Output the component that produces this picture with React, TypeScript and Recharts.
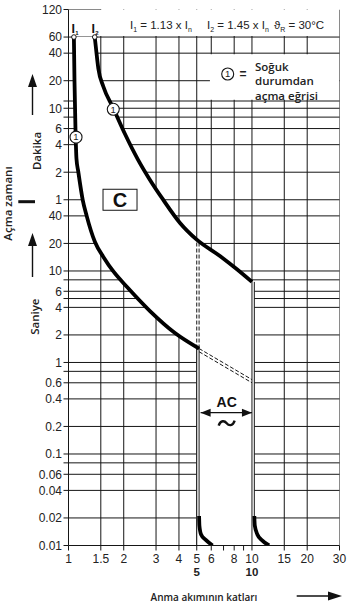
import React from "react";
import { ComposedChart, XAxis, YAxis, CartesianGrid, Line, Area, Scatter } from "recharts";

// x = multiple of rated current, t = trip time in seconds
const xTicks = [1, 1.5, 2, 3, 4, 5, 6, 7, 8, 9, 10, 15, 20, 30];
const xTickLabels: Record<number, string> = {
  1: "1", 1.5: "1.5", 2: "2", 3: "3", 4: "4", 5: "5", 6: "6", 8: "8", 10: "10", 15: "15", 20: "20", 30: "30",
};
const xGridLines = [1.5, 2, 3, 4, 5, 6, 8, 10, 15, 20];

const yTicks = [
  7200, 3600, 2400, 1200, 720, 600, 480, 360, 240, 120, 60, 40, 20, 10, 8, 6, 5, 4, 2, 1, 0.8, 0.6, 0.4, 0.2,
  0.1, 0.08, 0.06, 0.04, 0.02, 0.01,
];
// minutes above 1 min, seconds below
const yTickLabels: Record<number, string> = {
  7200: "120", 3600: "60", 2400: "40", 1200: "20", 600: "10", 360: "6", 240: "4", 120: "2", 60: "1",
  40: "40", 20: "20", 10: "10", 6: "6", 4: "4", 2: "2", 1: "1", 0.6: "0.6", 0.4: "0.4", 0.2: "0.2",
  0.1: "0.1", 0.06: "0.06", 0.04: "0.04", 0.02: "0.02", 0.01: "0.01",
};
const yGridLines = yTicks.filter((v) => v !== 7200 && v !== 0.01);

// lower limit curve (I1)
const lowerCurve = [
  { x: 1.07, t: 3600 }, { x: 1.078, t: 1200 }, { x: 1.091, t: 369 }, { x: 1.105, t: 169 },
  { x: 1.131, t: 121 }, { x: 1.195, t: 60 }, { x: 1.256, t: 40 }, { x: 1.394, t: 20.7 },
  { x: 1.562, t: 13.9 }, { x: 1.748, t: 10 }, { x: 2.11, t: 6.52 }, { x: 2.781, t: 3.65 },
  { x: 3.805, t: 2.1 }, { x: 5.15, t: 1.42 },
];
// upper limit curve (I2)
const upperCurve = [
  { x: 1.39, t: 3600 }, { x: 1.412, t: 2706 }, { x: 1.454, t: 1633 }, { x: 1.548, t: 1037 },
  { x: 1.748, t: 611 }, { x: 2.032, t: 314 }, { x: 2.391, t: 165 }, { x: 2.781, t: 98.9 },
  { x: 3.273, t: 60.5 }, { x: 4.053, t: 33.5 }, { x: 5, t: 22 }, { x: 6.69, t: 14.6 },
  { x: 8.25, t: 10.5 }, { x: 10, t: 7.6 },
];
// instantaneous trip, short times
const instantLow = [
  { x: 5.15, t: 0.021 }, { x: 5.17, t: 0.0165 }, { x: 5.28, t: 0.0132 }, { x: 5.6, t: 0.0115 }, { x: 6.1, t: 0.01 },
];
const instantHigh = [
  { x: 10.3, t: 0.021 }, { x: 10.36, t: 0.0165 }, { x: 10.7, t: 0.0132 }, { x: 11.4, t: 0.0113 }, { x: 12.4, t: 0.01 },
];
// band between the curves (low, high)
const bandEdges = [
  { x: 1.07, r: [3600, 3600] }, { x: 1.078, r: [1200, 3600] }, { x: 1.091, r: [369, 3600] },
  { x: 1.105, r: [169, 3600] }, { x: 1.131, r: [121, 3600] }, { x: 1.195, r: [60, 3600] },
  { x: 1.256, r: [40, 3600] }, { x: 1.39, r: [21, 3600] }, { x: 1.412, r: [19.5, 2706] },
  { x: 1.454, r: [17.5, 1633] }, { x: 1.548, r: [14.2, 1037] }, { x: 1.562, r: [13.9, 1000] },
  { x: 1.748, r: [10, 611] }, { x: 2.032, r: [7.1, 314] }, { x: 2.11, r: [6.52, 280] },
  { x: 2.391, r: [5.1, 165] }, { x: 2.781, r: [3.65, 98.9] }, { x: 3.273, r: [2.85, 60.5] },
  { x: 3.805, r: [2.1, 37] }, { x: 4.053, r: [1.95, 33.5] }, { x: 5, r: [1.47, 22] },
  { x: 5, r: [0.01, 22] }, { x: 6.69, r: [0.01, 14.6] }, { x: 8.25, r: [0.01, 10.5] },
  { x: 10, r: [0.01, 7.6] }, { x: 10.3, r: [0.01, 7.6] },
];
const coldMarks = [{ x: 1.099, t: 290 }, { x: 1.754, t: 585 }];
const curveStarts = [{ x: 1.07, t: 3600 }, { x: 1.39, t: 3600 }];
const charLabel = [{ x: 1.909, t: 60 }];
const acLabel = [{ x: 7.28, t: 0.283 }];
const acArrow = [{ x: 5.25, t: 0.283 }, { x: 10, t: 0.283 }];

// blank areas (header row, legend box)
const headerBlank = [{ x: 1, r: [3690, 7200] }, { x: 30, r: [3690, 7200] }];
const legendBlank = [{ x: 5.9, r: [745, 2330] }, { x: 30, r: [745, 2330] }];

const INK = "#161616";
const SANS = "'Liberation Sans', Arial, sans-serif";
const TITLE = "'Open Sans', sans-serif";

const seg = (a: [number, number], b: [number, number]) => [{ x: a[0], t: a[1] }, { x: b[0], t: b[1] }];

const thinLines = [
  seg([1, 7200], [1.5, 7200]),
  seg([30, 0.01], [30, 7200]),
  seg([5, 0.01], [5, 1.42]),
  seg([5.15, 0.021], [5.15, 1.42]),
  seg([10, 0.01], [10, 7.6]),
  seg([10.3, 0.021], [10.3, 7.6]),
];
const dashedLines = [
  seg([5, 1.42], [5, 22]),
  seg([5.15, 1.42], [5.15, 21.5]),
  seg([5.15, 1.42], [10, 0.65]),
  seg([5.15, 1.31], [10, 0.6]),
];

const YTick = (p: any) => {
  const label = yTickLabels[p.payload.value];
  if (!label) return <g />;
  return (
    <text x={p.x} y={p.y} dy={4.3} textAnchor="end" fontFamily={SANS} fontSize={12} fill="#222">
      {label}
    </text>
  );
};

const XTick = (p: any) => {
  const v = p.payload.value;
  const label = xTickLabels[v];
  return (
    <g>
      {label && (
        <text x={p.x} y={p.y} dy={10} textAnchor="middle" fontFamily={SANS} fontSize={12} fill="#222">
          {label}
        </text>
      )}
      {(v === 5 || v === 10) && (
        <text x={p.x} y={p.y} dy={23.5} textAnchor="middle" fontFamily={SANS} fontSize={11.5} fontWeight={700} fill="#222">
          {v}
        </text>
      )}
    </g>
  );
};

const CircledOne = (p: any) => (
  <g>
    <circle cx={p.cx} cy={p.cy} r={6} fill="#fff" stroke={INK} strokeWidth={1.1} />
    <text x={p.cx} y={p.cy + 3.3} textAnchor="middle" fontFamily={SANS} fontSize={9.5} fill="#222">1</text>
  </g>
);

const OpenDot = (p: any) => <circle cx={p.cx} cy={p.cy} r={2.3} fill="#fff" stroke={INK} strokeWidth={1} />;

const CharBox = (p: any) => (
  <g>
    <rect x={p.cx - 17} y={p.cy - 10.5} width={34} height={21} fill="#fff" stroke={INK} strokeWidth={1} />
    <text x={p.cx} y={p.cy + 7} textAnchor="middle" fontFamily={SANS} fontSize={20} fontWeight={700} fill="#111">C</text>
  </g>
);

const AcMark = (p: any) => (
  <g>
    <text x={p.cx} y={p.cy - 6} textAnchor="middle" fontFamily={SANS} fontSize={14} fontWeight={700} fill="#111">AC</text>
    <path
      d={`M${p.cx - 8},${p.cy + 13} C${p.cx - 6},${p.cy + 7} ${p.cx - 2},${p.cy + 8} ${p.cx},${p.cy + 10.5} S${p.cx + 6},${p.cy + 14} ${p.cx + 8},${p.cy + 8}`}
      fill="none"
      stroke="#111"
      strokeWidth={2.4}
    />
  </g>
);

const ArrowHead = (p: any) => {
  const d = p.index === 0 ? 1 : -1;
  return (
    <path
      key={`ah${p.index}`}
      d={`M${p.cx},${p.cy} L${p.cx + d * 10},${p.cy - 4} L${p.cx + d * 10},${p.cy + 4} Z`}
      fill="#111"
    />
  );
};

export default function App() {
  return (
    <div style={{ position: "absolute", left: 0, top: 0, width: 355, height: 604, background: "#fff" }}>
      <ComposedChart width={355} height={604} margin={{ top: 9.5, right: 15.5, bottom: 28.5, left: 0.5 }}>
        <CartesianGrid
          stroke={INK}
          strokeWidth={1}
          horizontalValues={yGridLines}
          verticalValues={xGridLines}
        />
        <XAxis
          dataKey="x"
          type="number"
          scale="log"
          domain={[1, 30]}
          allowDataOverflow
          ticks={xTicks}
          interval={0}
          tickSize={5}
          tickMargin={2}
          height={30}
          stroke={INK}
          tick={(p: any) => <XTick {...p} />}
        />
        <YAxis
          dataKey="t"
          type="number"
          scale="log"
          domain={[0.01, 7200]}
          allowDataOverflow
          ticks={yTicks}
          interval={0}
          tickSize={5}
          tickMargin={1.5}
          width={68}
          stroke={INK}
          tick={(p: any) => <YTick {...p} />}
        />
        <Area data={headerBlank} dataKey="r" type="linear" stroke="none" fill="#fff" fillOpacity={1} isAnimationActive={false} activeDot={false} />
        <Area data={legendBlank} dataKey="r" type="linear" stroke="none" fill="#fff" fillOpacity={1} isAnimationActive={false} activeDot={false} />
        <Area data={bandEdges} dataKey="r" type="linear" stroke="none" fill="#fff" fillOpacity={1} isAnimationActive={false} activeDot={false} />

        {thinLines.map((d, i) => (
          <Line key={`thin${i}`} data={d} dataKey="t" type="linear" stroke={INK} strokeWidth={1} dot={false} activeDot={false} isAnimationActive={false} />
        ))}
        {dashedLines.map((d, i) => (
          <Line key={`dash${i}`} data={d} dataKey="t" type="linear" stroke={INK} strokeWidth={1} strokeDasharray="4 2" dot={false} activeDot={false} isAnimationActive={false} />
        ))}

        <Line data={lowerCurve} dataKey="t" type="monotone" stroke="#000" strokeWidth={3.8} dot={false} activeDot={false} isAnimationActive={false} />
        <Line data={upperCurve} dataKey="t" type="monotone" stroke="#000" strokeWidth={3.8} dot={false} activeDot={false} isAnimationActive={false} />
        <Line data={instantLow} dataKey="t" type="monotone" stroke="#000" strokeWidth={3.8} dot={false} activeDot={false} isAnimationActive={false} />
        <Line data={instantHigh} dataKey="t" type="monotone" stroke="#000" strokeWidth={3.8} dot={false} activeDot={false} isAnimationActive={false} />
        <Line data={acArrow} dataKey="t" type="linear" stroke="#111" strokeWidth={1.4} dot={(p: any) => <ArrowHead {...p} />} activeDot={false} isAnimationActive={false} />

        <Scatter data={curveStarts} shape={(p: any) => <OpenDot {...p} />} isAnimationActive={false} />
        <Scatter data={coldMarks} shape={(p: any) => <CircledOne {...p} />} isAnimationActive={false} />
        <Scatter data={charLabel} shape={(p: any) => <CharBox {...p} />} isAnimationActive={false} />
        <Scatter data={acLabel} shape={(p: any) => <AcMark {...p} />} isAnimationActive={false} />
      </ComposedChart>

      <svg width={355} height={604} style={{ position: "absolute", left: 0, top: 0, pointerEvents: "none" }}>
        {/* header row */}
        <g fontFamily={SANS} fontSize={11.5} fill="#222">
          <text x={130} y={29}>
            I<tspan fontSize={7} dy={2.5}>1</tspan>
            <tspan dy={-2.5}> = 1.13 x I</tspan>
            <tspan fontSize={7} dy={2.5}>n</tspan>
          </text>
          <text x={207} y={29}>
            I<tspan fontSize={7} dy={2.5}>2</tspan>
            <tspan dy={-2.5}> = 1.45 x I</tspan>
            <tspan fontSize={7} dy={2.5}>n</tspan>
          </text>
          <text x={274} y={29}>
            ϑ<tspan fontSize={7} dy={2.5}>R</tspan>
            <tspan dy={-2.5}> = 30°C</tspan>
          </text>
        </g>
        {/* I1 / I2 marks */}
        <g fontFamily={SANS} fill="#111" fontWeight={700}>
          <text x={71.5} y={33} fontSize={12.5}>I</text>
          <text x={75.3} y={34.5} fontSize={6}>1</text>
          <text x={91.5} y={33} fontSize={12.5}>I</text>
          <text x={95.3} y={34.5} fontSize={6}>2</text>
        </g>
        {/* legend */}
        <circle cx={227.7} cy={74} r={6} fill="#fff" stroke={INK} strokeWidth={1.1} />
        <text x={227.7} y={77.3} textAnchor="middle" fontFamily={SANS} fontSize={9.5} fill="#222">1</text>
        <text x={243} y={78} textAnchor="middle" fontFamily={SANS} fontSize={12} fontWeight={700} fill="#222">=</text>
        <g fontFamily={TITLE} fontSize={11.5} fontWeight={600} fill="#222">
          <text x={255} y={70.5}>Soğuk</text>
          <text x={255} y={85}>durumdan</text>
          <text x={255} y={100}>açma eğrisi</text>
        </g>
        {/* y-axis titles */}
        <g fontFamily={TITLE} fontSize={11.5} fontWeight={600} fill="#222">
          <text transform="translate(12,203.5) rotate(-90)" textAnchor="middle">Açma zamanı</text>
          <text transform="translate(41,151) rotate(-90)" textAnchor="middle">Dakika</text>
          <text transform="translate(39,316.7) rotate(-90)" textAnchor="middle">Saniye</text>
        </g>
        <rect x={18.3} y={200.2} width={16.7} height={3} fill="#111" />
        <line x1={32.5} y1={115} x2={32.5} y2={85} stroke="#111" strokeWidth={1.4} />
        <path d="M32.5,74 L28,87 L37,87 Z" fill="#111" />
        <line x1={32.5} y1={277} x2={32.5} y2={244} stroke="#111" strokeWidth={1.4} />
        <path d="M32.5,233 L28,246 L37,246 Z" fill="#111" />
        {/* x-axis title */}
        <text x={204} y={601} textAnchor="middle" fontFamily={TITLE} fontSize={10} fontWeight={600} fill="#222">
          Anma akımının katları
        </text>
        <line x1={296.7} y1={596} x2={330} y2={596} stroke="#111" strokeWidth={1.4} />
        <path d="M342,596 L328,591.5 L328,600.5 Z" fill="#111" />
      </svg>
    </div>
  );
}
